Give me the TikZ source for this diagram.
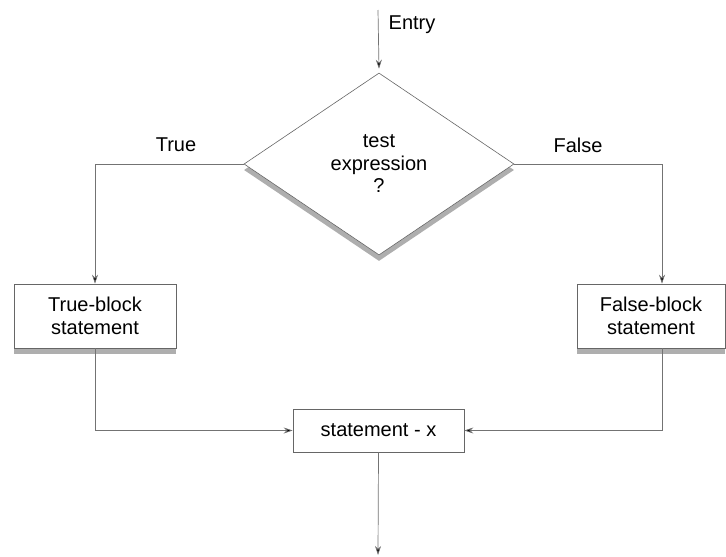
\documentclass[tikz,border=0pt]{standalone}
\usepackage{fontspec}
\setmainfont{Liberation Sans}
\usetikzlibrary{shapes.geometric,arrows.meta,shadows}
\begin{document}
\begin{tikzpicture}[x=1pt,y=-1pt,
  line/.style={draw=black!55, line width=0.7pt},
  arr/.style={line, -{Stealth[length=9pt,width=6pt,fill=black]}},
  shade/.style={drop shadow={shadow xshift=0pt, shadow yshift=-6pt, fill=black!45, opacity=0.7}},
  txt/.style={font=\fontsize{20}{22.5}\selectfont, align=center},
  blk/.style={txt, rectangle, draw=black!60, line width=0.6pt, fill=white, inner sep=0pt},
  dia/.style={txt, diamond, draw=black!60, line width=0.6pt, fill=white, inner sep=0pt,
              minimum width=270pt, minimum height=182pt, shade},
  lbl/.style={font=\fontsize{20}{22.5}\selectfont}]
\useasboundingbox (0,0) rectangle (726,557);

% decision and blocks
\node[dia] (test) at (379,164) {test\\expression\\?};
\node[blk, shade, minimum width=162pt, minimum height=64pt] (tb) at (95,316) {True-block\\statement};
\node[blk, shade, minimum width=148pt, minimum height=64pt] (fb) at (651,316) {False-block\\statement};
\node[blk, minimum width=171pt, minimum height=43pt] (sx) at (378.5,430.5) {statement - x};

% free ends
\coordinate (entry) at (378,10);
\coordinate (exit) at (378,555);

% labels
\node[lbl] (entrylbl) at (412,25) {Entry};
\node[lbl] (truelbl) at (176,145) {True};
\node[lbl] (falselbl) at (578,145) {False};

% connectors
\draw[arr] (entry) -- ([yshift=4pt]test.north);
\draw[arr] (test.west) -| (tb.north);
\draw[arr] (test.east) -| ([xshift=11pt]fb.north);
\draw[arr] (tb.south) |- (sx.west);
\draw[arr] ([xshift=11pt]fb.south) |- (sx.east);
\draw[arr] (sx.south) -- (exit);
\end{tikzpicture}
\end{document}
